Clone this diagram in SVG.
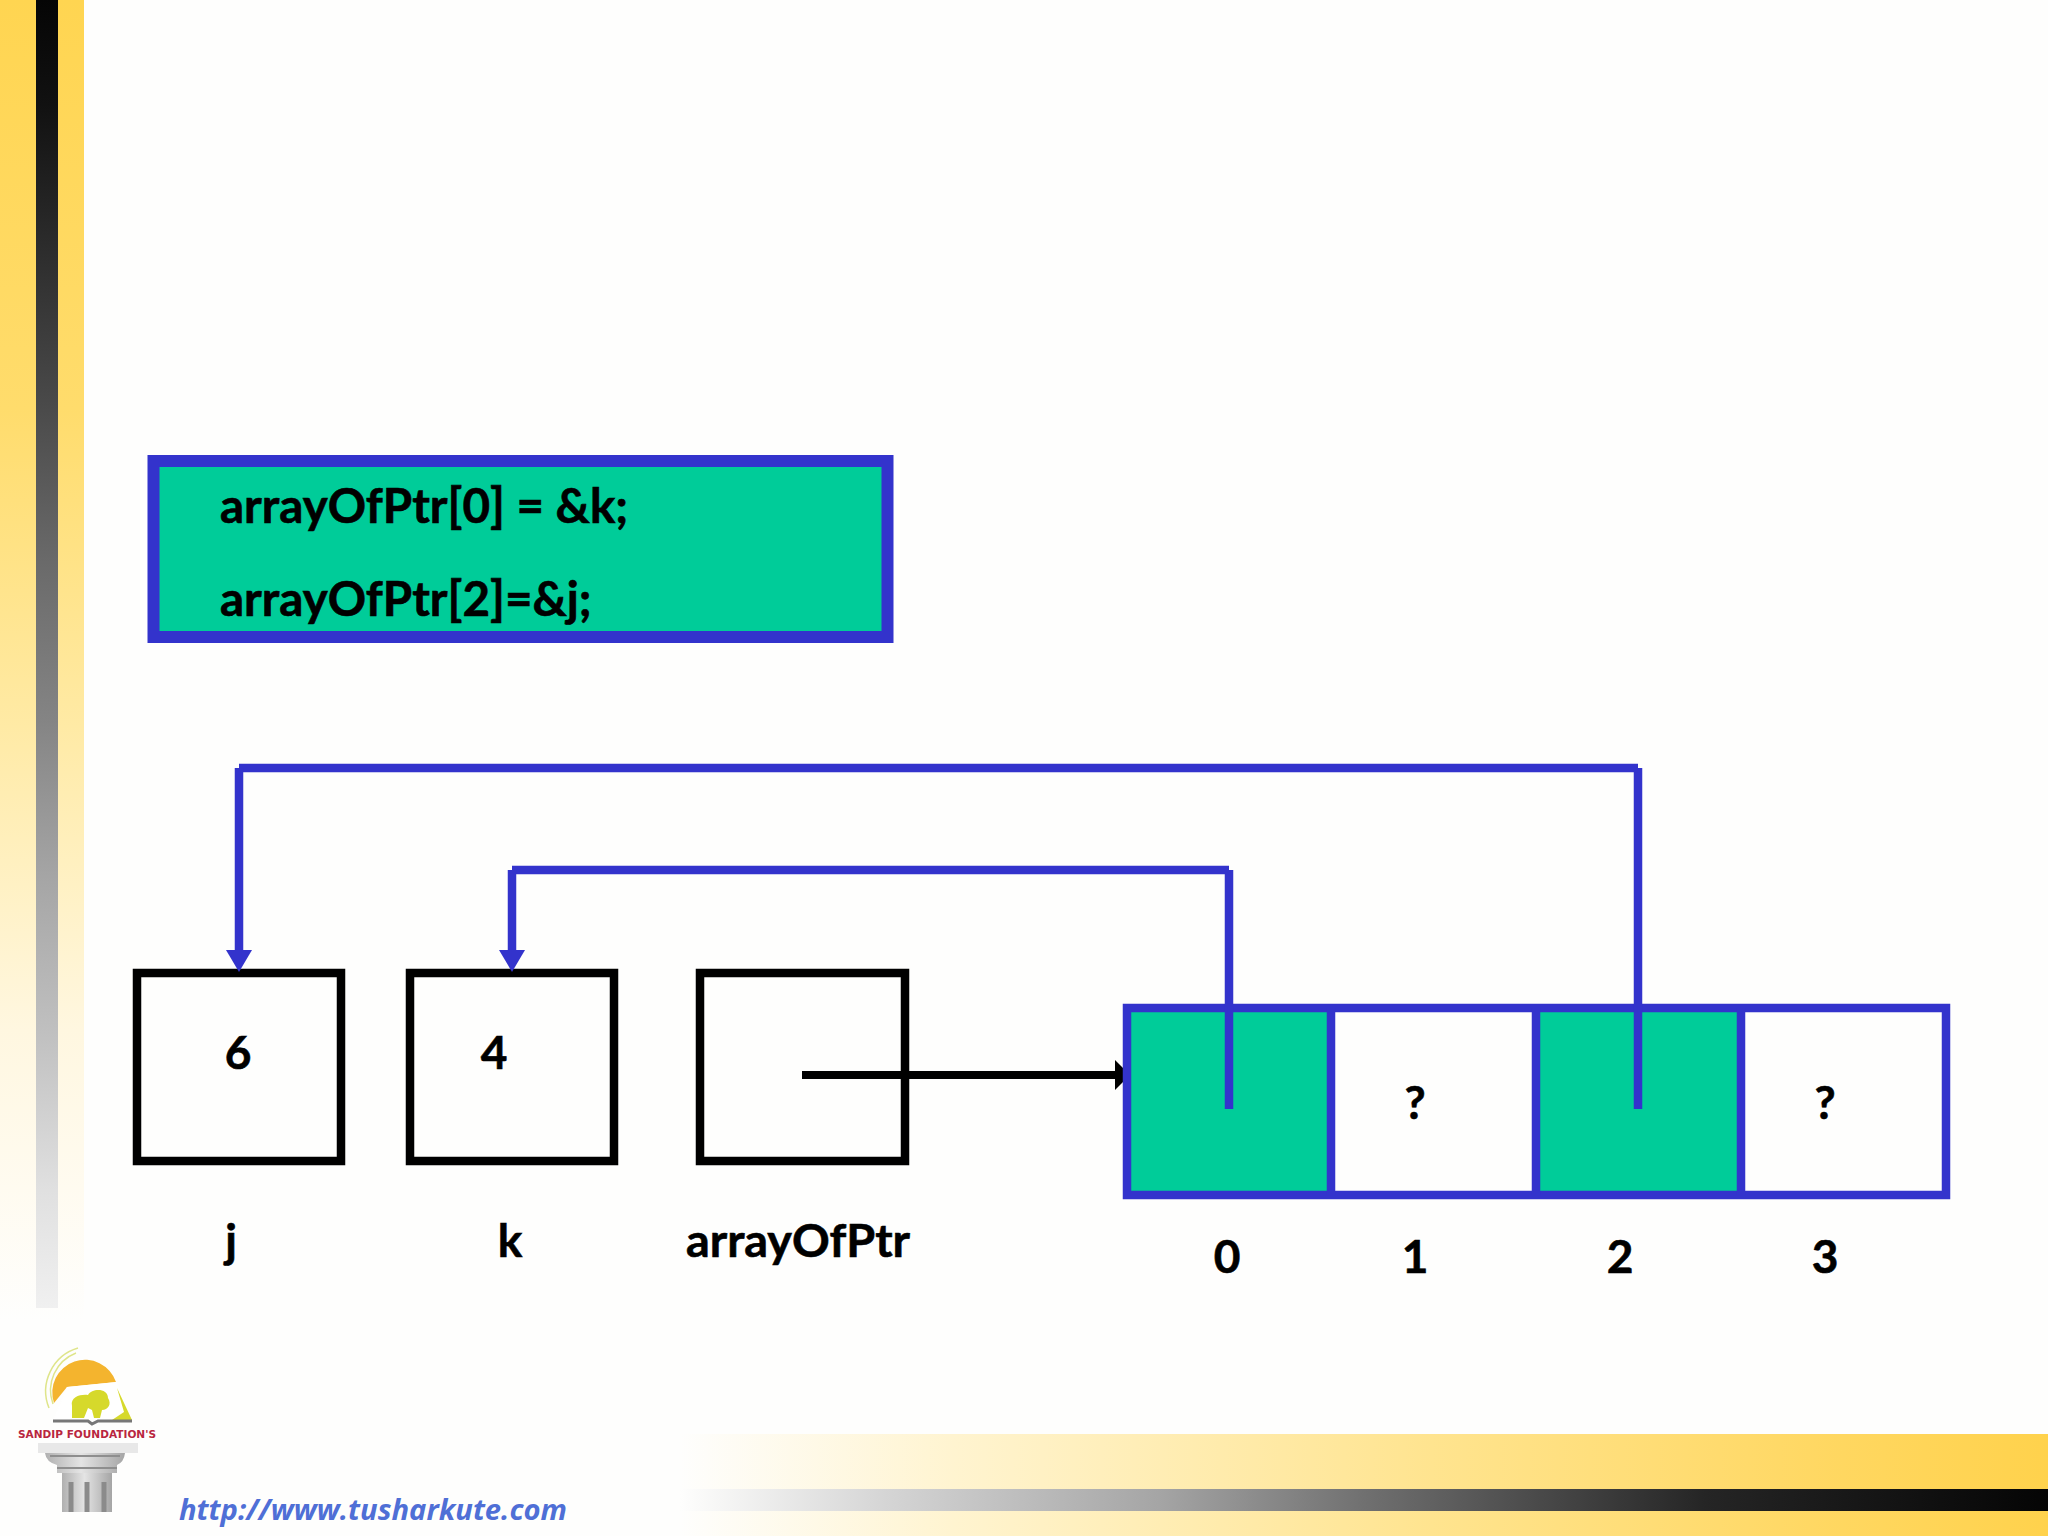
<svg xmlns="http://www.w3.org/2000/svg" width="2048" height="1536" viewBox="0 0 2048 1536">
<defs>
<linearGradient id="ly" x1="0" y1="0" x2="0" y2="1"><stop offset="0" stop-color="#ffd551"/><stop offset="0.31" stop-color="#ffdc6c"/><stop offset="0.43" stop-color="#ffe388"/><stop offset="0.55" stop-color="#ffeaa5"/><stop offset="0.67" stop-color="#fff1c4"/><stop offset="0.78" stop-color="#fff7e0"/><stop offset="0.9" stop-color="#fffbf0"/><stop offset="1" stop-color="#fefefd"/></linearGradient>
<linearGradient id="lk" x1="0" y1="0" x2="0" y2="1"><stop offset="0" stop-color="#050505"/><stop offset="0.08" stop-color="#111"/><stop offset="0.31" stop-color="#4a4a4a"/><stop offset="0.43" stop-color="#6a6a6a"/><stop offset="0.55" stop-color="#848484"/><stop offset="0.67" stop-color="#a5a5a5"/><stop offset="0.79" stop-color="#c0c0c0"/><stop offset="0.91" stop-color="#e0e0e0"/><stop offset="1" stop-color="#f0f0f0"/></linearGradient>
<linearGradient id="by" x1="0" y1="0" x2="1" y2="0"><stop offset="0" stop-color="#fefefd"/><stop offset="0.2" stop-color="#fff4d0"/><stop offset="0.55" stop-color="#ffe48f"/><stop offset="0.85" stop-color="#ffd760"/><stop offset="1" stop-color="#ffd24c"/></linearGradient>
<linearGradient id="bk" x1="0" y1="0" x2="1" y2="0"><stop offset="0" stop-color="#fefefd"/><stop offset="0.15" stop-color="#d5d5d5"/><stop offset="0.35" stop-color="#a5a5a5"/><stop offset="0.5" stop-color="#707070"/><stop offset="0.75" stop-color="#252525"/><stop offset="1" stop-color="#050505"/></linearGradient>
<linearGradient id="col" x1="0" y1="0" x2="1" y2="0"><stop offset="0" stop-color="#b0b0b0"/><stop offset="0.45" stop-color="#e4e4e4"/><stop offset="1" stop-color="#a5a5a5"/></linearGradient>
<marker id="blueHead" markerUnits="userSpaceOnUse" markerWidth="22" markerHeight="26" refX="0" refY="13" orient="auto" viewBox="0 0 22 26"><path d="M0 0L22 13L0 26Z" fill="#3333cc"/></marker>
</defs>
<style>
.t{font-family:Lato,"Liberation Sans",sans-serif;font-weight:700;fill:#000;stroke:#000;stroke-width:.6px;font-size:46px}
.big{font-size:47.500px}
.bl{fill:none;stroke:#000;stroke-width:8.500}
.bx{fill:none;stroke:#3333cc;stroke-width:8.500}
.ln{fill:none;stroke:#3333cc;stroke-width:8.500}
</style>
<rect width="2048" height="1536" fill="#fefefd"/>
<g id="background">
<rect x="0" y="0" width="84" height="1320" fill="url(#ly)"/>
<rect x="36" y="0" width="22" height="1308" fill="url(#lk)"/>
<rect x="680" y="1434" width="1368" height="102" fill="url(#by)"/>
<rect x="680" y="1489" width="1368" height="22" fill="url(#bk)"/>
</g>
<g id="logo">
<path d="M49 1408A45 45 0 0 1 78 1348" fill="none" stroke="#dfe58a" stroke-width="1.500"/>
<path d="M53 1404A40 40 0 0 1 76 1353" fill="none" stroke="#dfe58a" stroke-width="1.500"/>
<path d="M54 1403A31 31 0 1 1 116 1382L67 1387Z" fill="#f4b42e"/>
<path d="M67 1387L117 1382L132 1420H53Z" fill="#fff"/>
<path d="M72 1418V1406C70 1396 82 1394 88 1395C92 1388 108 1388 108 1398C112 1404 108 1410 102 1410L100 1418H94L92 1410L88 1408L84 1418Z" fill="#d6d92b"/>
<path d="M117 1388L132 1420H112L124 1412Z" fill="#d6d92b"/>
<path d="M53 1421H88L92 1424L98 1421H132" fill="none" stroke="#777" stroke-width="3"/>
<text x="18" y="1438" font-family="'DejaVu Sans',sans-serif" font-weight="700" font-size="10.500px" fill="#b92640" textLength="138" lengthAdjust="spacingAndGlyphs">SANDIP FOUNDATION'S</text>
<rect x="38" y="1443" width="100" height="10" fill="#e8e8e8"/>
<path d="M45 1453H125Q124 1462 117 1465V1473H57V1465Q46 1462 45 1453Z" fill="url(#col)"/>
<path d="M50 1456H120M57 1468H117" stroke="#8e8e8e" stroke-width="2" fill="none"/>
<rect x="62" y="1473" width="50" height="39" fill="url(#col)"/>
<path d="M71 1482V1512M87 1482V1512M104 1482V1512" stroke="#8b8b8b" stroke-width="5" fill="none"/>
</g>
<text id="url" x="179" y="1520" font-family="'Open Sans','Liberation Sans',sans-serif" font-style="italic" font-weight="700" font-size="29px" fill="#4f6fd6" textLength="388" lengthAdjust="spacingAndGlyphs">http://www.tusharkute.com</text>
<g id="code">
<rect x="153.500" y="461" width="734" height="176" fill="#00cc99" stroke="#3333cc" stroke-width="12"/>
<text class="t big" x="220" y="523">arrayOfPtr[0] = &amp;k;</text>
<text class="t big" x="220" y="616">arrayOfPtr[2]=&amp;j;</text>
</g>
<g id="node-j"><rect class="bl" x="137" y="973" width="204" height="188"/><text class="t" x="238" y="1069" text-anchor="middle">6</text><text class="t" x="231" y="1257" text-anchor="middle">j</text></g>
<g id="node-k"><rect class="bl" x="410" y="973" width="204" height="188"/><text class="t" x="494" y="1069" text-anchor="middle">4</text><text class="t" x="510" y="1257" text-anchor="middle">k</text></g>
<g id="node-arrayOfPtr"><rect class="bl" x="700" y="973" width="205" height="188"/><text class="t" x="798" y="1257" text-anchor="middle" textLength="224" lengthAdjust="spacingAndGlyphs">arrayOfPtr</text></g>
<g id="connector-arrayOfPtr">
<path d="M802 1075H1122" stroke="#000" stroke-width="8" fill="none"/>
<path d="M1115 1060L1130 1075L1115 1090Z" fill="#000"/>
</g>
<g id="array">
<rect x="1127" y="1008" width="204" height="187" fill="#00cc99"/>
<rect x="1536" y="1008" width="205" height="187" fill="#00cc99"/>
<rect class="bx" x="1127" y="1008" width="819" height="187"/>
<path class="bx" d="M1331 1008V1195M1536 1008V1195M1741 1008V1195"/>
<text class="t" x="1227" y="1273" text-anchor="middle">0</text>
<text class="t" x="1415" y="1273" text-anchor="middle">1</text>
<text class="t" x="1620" y="1273" text-anchor="middle">2</text>
<text class="t" x="1825" y="1273" text-anchor="middle">3</text>
<text class="t" x="1415" y="1119" text-anchor="middle">?</text>
<text class="t" x="1825" y="1119" text-anchor="middle">?</text>
</g>
<g id="connectors">
<path class="ln" d="M1638 1109V768"/>
<path class="ln" d="M1638 768H239"/>
<path class="ln" d="M239 768V950" marker-end="url(#blueHead)"/>
<path class="ln" d="M1229 1109V870"/>
<path class="ln" d="M1229 870H512"/>
<path class="ln" d="M512 870V950" marker-end="url(#blueHead)"/>
</g>
</svg>
